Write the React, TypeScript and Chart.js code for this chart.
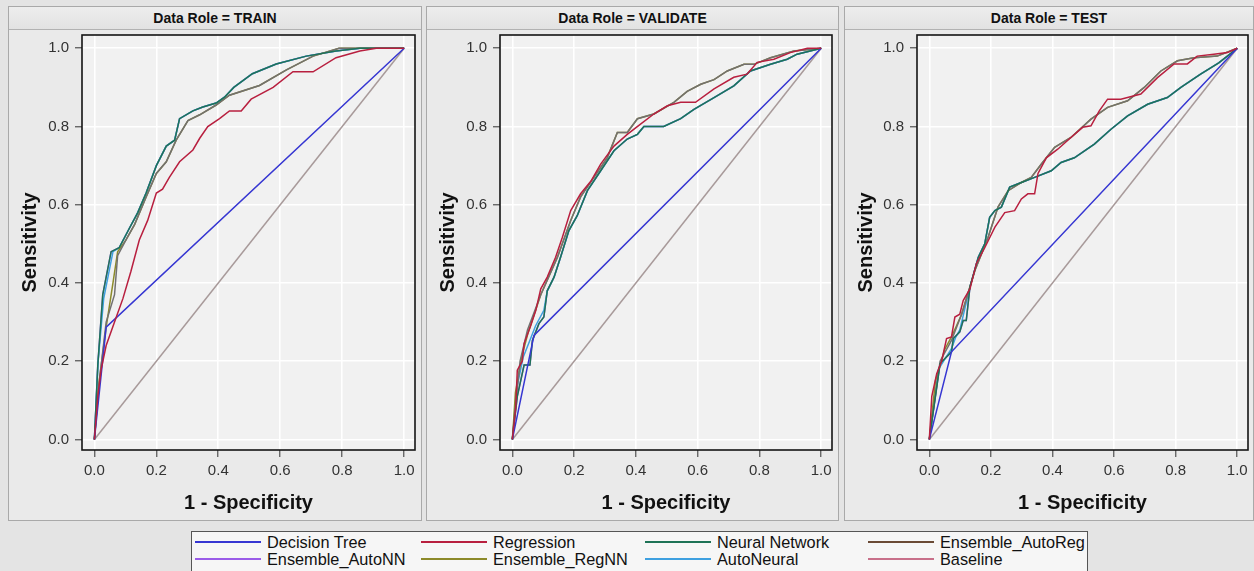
import React, { useEffect, useRef } from 'react';
import { Chart, registerables } from 'chart.js';

Chart.register(...registerables);

type Pt = [number, number];

const FONT = "'Liberation Sans', Arial, Helvetica, sans-serif";

const seriesNames = ['Decision Tree', 'Regression', 'Neural Network', 'Ensemble_AutoReg', 'Ensemble_AutoNN', 'Ensemble_RegNN', 'AutoNeural', 'Baseline'];
const seriesColors = ['#3636d2', '#b81f3f', '#1e7356', '#727070', '#9a5ce8', '#8c8a2a', '#3ea0e0', '#a89a9a'];
const legendColors = ['#3636d2', '#b81f3f', '#1e7356', '#6a4a35', '#9a5ce8', '#8c8a2a', '#3ea0e0', '#c8708a'];
const drawOrder = [1, 0, 2, 3, 6, 4, 5, 7];
const panelTitles = ['Data Role = TRAIN', 'Data Role = VALIDATE', 'Data Role = TEST'];
const tickValues = [0, 0.2, 0.4, 0.6, 0.8, 1.0];

const baseline: Pt[] = [[0, 0], [1, 1]];

// ---- TRAIN ----
const trainTree: Pt[] = [[0, 0], [0.038, 0.287], [1, 1]];
const trainRegression: Pt[] = [[0, 0], [0.011, 0.11], [0.022, 0.18], [0.038, 0.24], [0.065, 0.3], [0.092, 0.36], [0.118, 0.43], [0.145, 0.51], [0.172, 0.56], [0.2, 0.63], [0.22, 0.64], [0.242, 0.67], [0.275, 0.71], [0.318, 0.74], [0.34, 0.77], [0.366, 0.8], [0.404, 0.82], [0.436, 0.84], [0.474, 0.84], [0.506, 0.87], [0.577, 0.9], [0.641, 0.94], [0.706, 0.94], [0.78, 0.976], [0.857, 0.993], [0.91, 1], [1, 1]];
const trainNeural: Pt[] = [[0, 0], [0.011, 0.19], [0.027, 0.37], [0.054, 0.48], [0.08, 0.49], [0.113, 0.54], [0.14, 0.58], [0.167, 0.63], [0.2, 0.7], [0.232, 0.75], [0.259, 0.765], [0.275, 0.82], [0.318, 0.84], [0.35, 0.85], [0.393, 0.86], [0.42, 0.875], [0.45, 0.9], [0.51, 0.935], [0.587, 0.96], [0.684, 0.98], [0.78, 0.993], [0.857, 1], [1, 1]];
const trainAutoReg: Pt[] = [[0, 0], [0.016, 0.15], [0.038, 0.3], [0.065, 0.37], [0.075, 0.47], [0.102, 0.51], [0.13, 0.55], [0.167, 0.62], [0.2, 0.68], [0.232, 0.71], [0.264, 0.765], [0.302, 0.815], [0.34, 0.83], [0.393, 0.855], [0.436, 0.88], [0.533, 0.905], [0.62, 0.945], [0.706, 0.98], [0.79, 1], [1, 1]];
const trainAutoNN: Pt[] = [[0, 0], [0.011, 0.19], [0.027, 0.37], [0.054, 0.48], [0.08, 0.49], [0.113, 0.54], [0.14, 0.58], [0.167, 0.63], [0.2, 0.7], [0.232, 0.75], [0.259, 0.765], [0.275, 0.82], [0.318, 0.84], [0.35, 0.85], [0.393, 0.86], [0.42, 0.875], [0.45, 0.9], [0.51, 0.935], [0.587, 0.96], [0.684, 0.98], [0.78, 0.993], [0.857, 1], [1, 1]];
const trainRegNN: Pt[] = [[0, 0], [0.014, 0.14], [0.038, 0.287], [0.06, 0.4], [0.075, 0.48], [0.102, 0.51], [0.13, 0.55], [0.167, 0.62], [0.2, 0.68], [0.232, 0.71], [0.264, 0.765], [0.302, 0.815], [0.34, 0.83], [0.393, 0.855], [0.436, 0.88], [0.533, 0.905], [0.62, 0.945], [0.706, 0.98], [0.79, 1], [1, 1]];
const trainAutoNeural: Pt[] = [[0, 0], [0.012, 0.2], [0.03, 0.36], [0.06, 0.48], [0.08, 0.49], [0.113, 0.54], [0.14, 0.58], [0.167, 0.63], [0.2, 0.7], [0.232, 0.75], [0.259, 0.765], [0.275, 0.82], [0.318, 0.84], [0.35, 0.85], [0.393, 0.86], [0.42, 0.875], [0.45, 0.9], [0.51, 0.935], [0.587, 0.96], [0.684, 0.98], [0.78, 0.993], [0.857, 1], [1, 1]];

// ---- VALIDATE ----
const valTree: Pt[] = [[0, 0], [0.07, 0.266], [1, 1]];
const valRegression: Pt[] = [[0, 0], [0.011, 0.083], [0.016, 0.177], [0.032, 0.2], [0.038, 0.245], [0.059, 0.29], [0.076, 0.33], [0.092, 0.385], [0.113, 0.415], [0.14, 0.466], [0.162, 0.517], [0.189, 0.585], [0.221, 0.628], [0.254, 0.66], [0.286, 0.704], [0.329, 0.75], [0.372, 0.78], [0.415, 0.806], [0.458, 0.832], [0.502, 0.853], [0.545, 0.862], [0.593, 0.862], [0.653, 0.896], [0.717, 0.926], [0.76, 0.934], [0.793, 0.964], [0.847, 0.972], [0.9, 0.989], [0.955, 1], [1, 1]];
const valNeural: Pt[] = [[0, 0], [0.016, 0.11], [0.038, 0.19], [0.057, 0.19], [0.065, 0.253], [0.086, 0.296], [0.102, 0.313], [0.113, 0.38], [0.135, 0.415], [0.156, 0.466], [0.183, 0.534], [0.21, 0.572], [0.243, 0.636], [0.28, 0.68], [0.329, 0.738], [0.372, 0.768], [0.405, 0.78], [0.426, 0.8], [0.49, 0.8], [0.545, 0.82], [0.588, 0.844], [0.653, 0.874], [0.717, 0.904], [0.771, 0.942], [0.836, 0.959], [0.89, 0.972], [0.922, 0.985], [1, 1]];
const valAutoReg: Pt[] = [[0, 0], [0.012, 0.1], [0.025, 0.2], [0.049, 0.28], [0.092, 0.37], [0.146, 0.466], [0.189, 0.56], [0.221, 0.62], [0.264, 0.67], [0.307, 0.72], [0.34, 0.785], [0.372, 0.785], [0.405, 0.82], [0.458, 0.832], [0.523, 0.862], [0.566, 0.89], [0.61, 0.908], [0.653, 0.92], [0.696, 0.942], [0.75, 0.959], [0.782, 0.959], [0.836, 0.976], [0.912, 0.993], [1, 1]];
const valAutoNN: Pt[] = [[0, 0], [0.016, 0.11], [0.038, 0.19], [0.057, 0.19], [0.065, 0.253], [0.086, 0.296], [0.102, 0.313], [0.113, 0.38], [0.135, 0.415], [0.156, 0.466], [0.183, 0.534], [0.21, 0.572], [0.243, 0.636], [0.28, 0.68], [0.329, 0.738], [0.372, 0.768], [0.405, 0.78], [0.426, 0.8], [0.49, 0.8], [0.545, 0.82], [0.588, 0.844], [0.653, 0.874], [0.717, 0.904], [0.771, 0.942], [0.836, 0.959], [0.89, 0.972], [0.922, 0.985], [1, 1]];
const valRegNN: Pt[] = [[0, 0], [0.01, 0.12], [0.03, 0.21], [0.05, 0.27], [0.092, 0.37], [0.146, 0.466], [0.189, 0.56], [0.221, 0.62], [0.264, 0.67], [0.307, 0.72], [0.34, 0.785], [0.372, 0.785], [0.405, 0.82], [0.458, 0.832], [0.523, 0.862], [0.566, 0.89], [0.61, 0.908], [0.653, 0.92], [0.696, 0.942], [0.75, 0.959], [0.782, 0.959], [0.836, 0.976], [0.912, 0.993], [1, 1]];
const valAutoNeural: Pt[] = [[0, 0], [0.014, 0.13], [0.035, 0.21], [0.055, 0.25], [0.075, 0.29], [0.102, 0.33], [0.113, 0.38], [0.135, 0.415], [0.156, 0.466], [0.183, 0.534], [0.21, 0.572], [0.243, 0.636], [0.28, 0.68], [0.329, 0.738], [0.372, 0.768], [0.405, 0.78], [0.426, 0.8], [0.49, 0.8], [0.545, 0.82], [0.588, 0.844], [0.653, 0.874], [0.717, 0.904], [0.771, 0.942], [0.836, 0.959], [0.89, 0.972], [0.922, 0.985], [1, 1]];

// ---- TEST ----
const testTree: Pt[] = [[0, 0], [0.072, 0.224], [1, 1]];
const testRegression: Pt[] = [[0, 0], [0.008, 0.11], [0.024, 0.168], [0.04, 0.2], [0.056, 0.258], [0.072, 0.262], [0.083, 0.313], [0.099, 0.32], [0.11, 0.355], [0.132, 0.385], [0.153, 0.45], [0.18, 0.49], [0.213, 0.543], [0.245, 0.58], [0.277, 0.585], [0.299, 0.615], [0.32, 0.628], [0.342, 0.628], [0.353, 0.68], [0.38, 0.72], [0.417, 0.742], [0.46, 0.772], [0.498, 0.798], [0.525, 0.802], [0.552, 0.84], [0.579, 0.87], [0.622, 0.87], [0.687, 0.883], [0.741, 0.925], [0.795, 0.96], [0.838, 0.96], [0.87, 0.98], [0.924, 0.985], [0.968, 0.989], [1, 1]];
const testNeural: Pt[] = [[0, 0], [0.035, 0.194], [0.072, 0.224], [0.078, 0.258], [0.099, 0.275], [0.11, 0.304], [0.12, 0.304], [0.132, 0.39], [0.159, 0.466], [0.18, 0.5], [0.196, 0.568], [0.213, 0.585], [0.234, 0.594], [0.261, 0.645], [0.299, 0.657], [0.342, 0.67], [0.396, 0.687], [0.428, 0.708], [0.471, 0.72], [0.536, 0.755], [0.59, 0.793], [0.644, 0.827], [0.709, 0.857], [0.773, 0.874], [0.817, 0.9], [0.881, 0.934], [0.94, 0.963], [1, 1]];
const testAutoReg: Pt[] = [[0, 0], [0.035, 0.2], [0.072, 0.253], [0.105, 0.32], [0.148, 0.432], [0.191, 0.517], [0.223, 0.594], [0.256, 0.636], [0.299, 0.657], [0.331, 0.67], [0.364, 0.704], [0.407, 0.747], [0.46, 0.772], [0.525, 0.819], [0.579, 0.849], [0.644, 0.866], [0.698, 0.9], [0.752, 0.942], [0.806, 0.968], [0.86, 0.976], [0.935, 0.98], [1, 1]];
const testAutoNN: Pt[] = [[0, 0], [0.035, 0.194], [0.072, 0.224], [0.078, 0.258], [0.099, 0.275], [0.11, 0.304], [0.12, 0.304], [0.132, 0.39], [0.159, 0.466], [0.18, 0.5], [0.196, 0.568], [0.213, 0.585], [0.234, 0.594], [0.261, 0.645], [0.299, 0.657], [0.342, 0.67], [0.396, 0.687], [0.428, 0.708], [0.471, 0.72], [0.536, 0.755], [0.59, 0.793], [0.644, 0.827], [0.709, 0.857], [0.773, 0.874], [0.817, 0.9], [0.881, 0.934], [0.94, 0.963], [1, 1]];
const testRegNN: Pt[] = [[0, 0], [0.02, 0.15], [0.05, 0.23], [0.072, 0.262], [0.105, 0.32], [0.148, 0.432], [0.191, 0.517], [0.223, 0.594], [0.256, 0.636], [0.299, 0.657], [0.331, 0.67], [0.364, 0.704], [0.407, 0.747], [0.46, 0.772], [0.525, 0.819], [0.579, 0.849], [0.644, 0.866], [0.698, 0.9], [0.752, 0.942], [0.806, 0.968], [0.86, 0.976], [0.935, 0.98], [1, 1]];
const testAutoNeural: Pt[] = [[0, 0], [0.03, 0.18], [0.072, 0.232], [0.085, 0.26], [0.099, 0.28], [0.132, 0.39], [0.159, 0.466], [0.18, 0.5], [0.196, 0.568], [0.213, 0.585], [0.234, 0.594], [0.261, 0.645], [0.299, 0.657], [0.342, 0.67], [0.396, 0.687], [0.428, 0.708], [0.471, 0.72], [0.536, 0.755], [0.59, 0.793], [0.644, 0.827], [0.709, 0.857], [0.773, 0.874], [0.817, 0.9], [0.881, 0.934], [0.94, 0.963], [1, 1]];

const trainSeries: Pt[][] = [trainTree, trainRegression, trainNeural, trainAutoReg, trainAutoNN, trainRegNN, trainAutoNeural, baseline];
const validateSeries: Pt[][] = [valTree, valRegression, valNeural, valAutoReg, valAutoNN, valRegNN, valAutoNeural, baseline];
const testSeries: Pt[][] = [testTree, testRegression, testNeural, testAutoReg, testAutoNN, testRegNN, testAutoNeural, baseline];
const panelSeries = [trainSeries, validateSeries, testSeries];

const panelLayout = [
  { left: 8, width: 414, yAxisWidth: 73, padRight: 6 },
  { left: 426, width: 413, yAxisWidth: 73, padRight: 6 },
  { left: 844, width: 410, yAxisWidth: 72, padRight: 5 },
];

const frame = {
  id: 'frame',
  beforeDraw(chart: any) {
    const { ctx, chartArea: a } = chart;
    ctx.save();
    ctx.fillStyle = '#f1f1f1';
    ctx.fillRect(a.left, a.top, a.right - a.left, a.bottom - a.top);
    ctx.restore();
  },
  afterDraw(chart: any) {
    const { ctx, chartArea: a } = chart;
    ctx.save();
    ctx.strokeStyle = '#151515';
    ctx.lineWidth = 1.6;
    ctx.strokeRect(a.left, a.top, a.right - a.left, a.bottom - a.top);
    ctx.restore();
  },
};

function RocPanel({ idx }: { idx: number }) {
  const ref = useRef<HTMLCanvasElement>(null);
  const L = panelLayout[idx];
  const cw = L.width - 2;
  const ch = 489;
  useEffect(() => {
    const series = panelSeries[idx];
    const chart = new Chart(ref.current as HTMLCanvasElement, {
      type: 'line',
      data: {
        datasets: series.map((d, i) => ({
          label: seriesNames[i],
          data: d as any,
          borderColor: seriesColors[i],
          backgroundColor: seriesColors[i],
          borderWidth: 1.5,
          pointRadius: 0,
          tension: 0,
          fill: false,
          order: drawOrder[i],
        })),
      },
      options: {
        animation: false,
        responsive: false,
        events: [],
        layout: { padding: { top: 5, right: L.padRight, bottom: 0, left: 0 } },
        plugins: { legend: { display: false }, tooltip: { enabled: false } },
        scales: {
          x: {
            type: 'linear',
            min: -0.04,
            max: 1.035,
            afterBuildTicks: (s: any) => { s.ticks = tickValues.map((v) => ({ value: v })); },
            afterFit: (s: any) => { s.height = 69; s.paddingLeft = 0; s.paddingRight = 0; },
            ticks: { callback: (v: any) => Number(v).toFixed(1), font: { size: 15, family: FONT }, color: '#333', padding: 5, maxRotation: 0, autoSkip: false },
            grid: { color: '#ffffff', lineWidth: 1.6, tickColor: '#333', tickLength: 7, tickWidth: 1 },
            border: { display: false },
            title: { display: true, text: '1 - Specificity', font: { size: 20, weight: 'bold', family: FONT }, color: '#111', padding: { top: 0, bottom: 4 } },
          },
          y: {
            type: 'linear',
            min: -0.027,
            max: 1.034,
            afterBuildTicks: (s: any) => { s.ticks = tickValues.map((v) => ({ value: v })); },
            afterFit: (s: any) => { s.width = L.yAxisWidth; s.paddingTop = 0; s.paddingBottom = 0; },
            ticks: { callback: (v: any) => Number(v).toFixed(1), font: { size: 15, family: FONT }, color: '#333', padding: 6, autoSkip: false },
            grid: { color: '#ffffff', lineWidth: 1.6, tickColor: '#333', tickLength: 7, tickWidth: 1 },
            border: { display: false },
            title: { display: true, text: 'Sensitivity', font: { size: 20, weight: 'bold', family: FONT }, color: '#111', padding: { top: 9, bottom: 0 } },
          },
        },
      } as any,
      plugins: [frame],
    });
    return () => chart.destroy();
  }, [idx]);

  return (
    <div style={{ position: 'absolute', left: L.left, top: 6, width: L.width, height: 515, boxSizing: 'border-box', border: '1px solid #a9a9a9', background: '#eaeaea' }}>
      <div style={{ height: 22, borderBottom: '1px solid #b2b2b2', background: 'linear-gradient(#ededed, #e2e2e2)', textAlign: 'center', fontFamily: FONT, fontWeight: 'bold', fontSize: 14, lineHeight: '22px', color: '#111' }}>
        {panelTitles[idx]}
      </div>
      <canvas ref={ref} width={cw} height={ch} style={{ display: 'block', width: cw, height: ch }} />
    </div>
  );
}

const legendColX = [3, 229, 453, 676];

export default function App() {
  return (
    <div style={{ position: 'absolute', left: 0, top: 0, width: 1254, height: 571, overflow: 'hidden', background: '#e4e4e4', fontFamily: FONT }}>
      {[0, 1, 2].map((i) => <RocPanel key={i} idx={i} />)}
      <div style={{ position: 'absolute', left: 191, top: 531, width: 897, height: 44, boxSizing: 'border-box', border: '1px solid #555', background: '#f6f6f6' }}>
        {seriesNames.map((n, i) => (
          <div key={n} style={{ position: 'absolute', left: legendColX[i % 4], top: 1.5 + Math.floor(i / 4) * 17, height: 17, display: 'flex', alignItems: 'center', whiteSpace: 'nowrap' }}>
            <span style={{ display: 'inline-block', width: 66, height: 2, background: legendColors[i], marginRight: 6 }} />
            <span style={{ fontSize: 16.3, color: '#111', lineHeight: '17px' }}>{n}</span>
          </div>
        ))}
      </div>
    </div>
  );
}
